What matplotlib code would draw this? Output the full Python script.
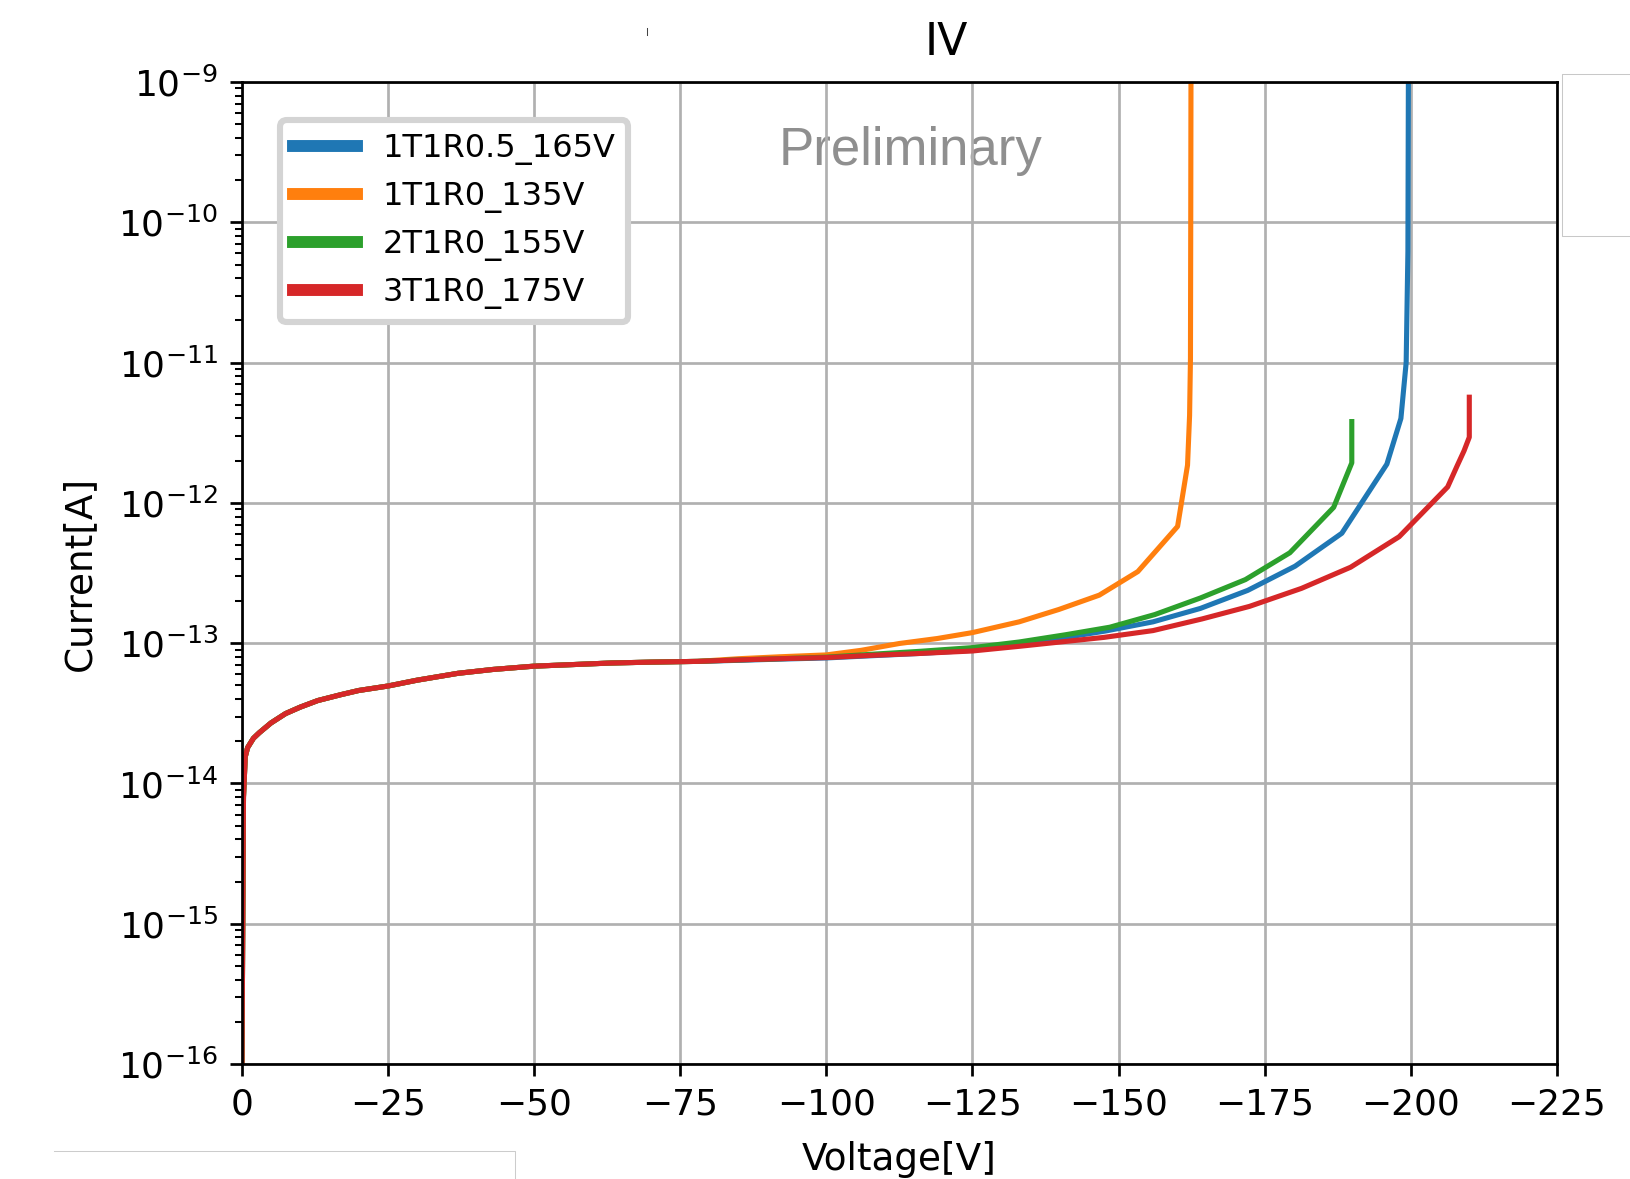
import numpy as np
import matplotlib
matplotlib.use('agg')
import matplotlib.pyplot as plt
from matplotlib.lines import Line2D

# shared low-voltage part (all sensors overlap here)
v_base = [0, -0.3, -0.6, -1, -2, -3, -5, -7.5, -10, -13, -17, -20, -25, -30,
          -37, -43, -50, -57, -63, -70, -78]
i_base = [5e-17, 8e-15, 1.55e-14, 1.8e-14, 2.1e-14, 2.3e-14, 2.7e-14, 3.15e-14,
          3.5e-14, 3.9e-14, 4.3e-14, 4.6e-14, 4.95e-14, 5.45e-14, 6.1e-14,
          6.5e-14, 6.86e-14, 7.05e-14, 7.22e-14, 7.33e-14, 7.42e-14]

# tails, one per sensor
v_1t1r05 = [-85, -92, -100, -108, -116, -125, -133, -141, -147.7, -155.9, -164.0,
            -172.1, -180.2, -188.2, -195.9, -198.3, -199.2, -199.5, -199.6]
i_1t1r05 = [7.55e-14, 7.7e-14, 7.85e-14, 8.15e-14, 8.45e-14, 8.9e-14, 9.7e-14,
            1.1e-13, 1.22e-13, 1.42e-13, 1.77e-13, 2.38e-13, 3.54e-13, 6.08e-13,
            1.89e-12, 4.0e-12, 1.0e-11, 6.2e-11, 2e-9]

v_1t1r0 = [-85, -92, -100, -106, -112.5, -119, -125, -133, -139.8, -146.7, -153.3,
           -160.1, -161.8, -162.15, -162.3, -162.35, -162.4]
i_1t1r0 = [7.75e-14, 8.0e-14, 8.25e-14, 8.9e-14, 9.95e-14, 1.08e-13, 1.19e-13,
           1.42e-13, 1.74e-13, 2.2e-13, 3.24e-13, 6.8e-13, 1.86e-12, 4.2e-12,
           1.07e-11, 1.1e-10, 2e-9]

v_2t1r0 = [-85, -92, -100, -108, -116, -125, -133, -141, -148.5, -156.2, -164.0,
           -171.7, -179.3, -186.8, -189.9, -189.9]
i_2t1r0 = [7.6e-14, 7.75e-14, 7.95e-14, 8.35e-14, 8.75e-14, 9.3e-14, 1.02e-13,
           1.15e-13, 1.3e-13, 1.6e-13, 2.1e-13, 2.84e-13, 4.41e-13, 9.3e-13,
           1.93e-12, 3.8e-12]

v_3t1r0 = [-85, -92, -100, -108, -116, -125, -133, -141, -147.5, -155.9, -164.3,
           -172.4, -181.3, -189.7, -198.0, -206.3, -207.9, -209.1, -210.0, -210.0]
i_3t1r0 = [7.6e-14, 7.75e-14, 7.9e-14, 8.2e-14, 8.45e-14, 8.8e-14, 9.5e-14,
           1.03e-13, 1.1e-13, 1.23e-13, 1.49e-13, 1.83e-13, 2.46e-13, 3.48e-13,
           5.74e-13, 1.30e-12, 1.83e-12, 2.35e-12, 2.94e-12, 5.67e-12]

labels = ['1T1R0.5_165V', '1T1R0_135V', '2T1R0_155V', '3T1R0_175V']
colors = ['#1f77b4', '#ff7f0e', '#2ca02c', '#d62728']
tails = [(v_1t1r05, i_1t1r05), (v_1t1r0, i_1t1r0),
         (v_2t1r0, i_2t1r0), (v_3t1r0, i_3t1r0)]

DPI = 245
plt.rcParams['xtick.labelsize'] = 10.6
plt.rcParams['ytick.labelsize'] = 10.6
plt.rcParams['axes.labelsize'] = 11
fig = plt.figure(figsize=(1630 / DPI, 1179 / DPI), dpi=DPI)
ax = fig.add_axes([0.1483, 0.0975, 0.9552 - 0.1483, 0.9304 - 0.0975])

for (vt, it), lab, col in zip(tails, labels, colors):
  ax.plot(v_base + vt, i_base + it, '-', color=col, linewidth=1.5, label=lab)

ax.set_yscale('log')
ax.set_xlim(0, -225)
ax.set_ylim(1e-16, 1e-9)
ax.set_xticks([0, -25, -50, -75, -100, -125, -150, -175, -200, -225])
ax.grid(True, color='#b0b0b0', linewidth=0.8)
ax.set_xlabel('Voltage[V]', labelpad=5.5)
ax.set_ylabel('Current[A]', labelpad=6)
ax.set_title('IV', x=0.5355, fontsize=13, pad=8)

ax.text(0.5086, 0.9157, 'Preliminary', transform=ax.transAxes,
        ha='center', va='baseline', fontsize=15.5, color='#8f8f8f',
        family='Liberation Sans', zorder=1)

leg = ax.legend(loc='upper left', fontsize=9.4, borderaxespad=1.2,
                framealpha=1, labelspacing=0.5)
leg.get_frame().set_edgecolor('#d4d4d4')
leg.get_frame().set_linewidth(1.8)
for ln in leg.get_lines():
  ln.set_linewidth(3.5)

# stray screenshot marks around the plot
def fig_line(xs, ys, color, lw):
  fig.add_artist(Line2D([x / 1630 for x in xs], [1 - y / 1179 for y in ys],
                        transform=fig.transFigure, color=color, linewidth=lw))

fig_line([1630, 1562, 1562, 1630], [74, 74, 236, 236], '#c8c8c8', 0.3)
fig_line([54, 515, 515], [1151, 1151, 1179], '#cccccc', 0.3)
fig_line([647, 647], [28, 35], '#444444', 0.3)

fig.savefig('out.png', dpi=DPI)
